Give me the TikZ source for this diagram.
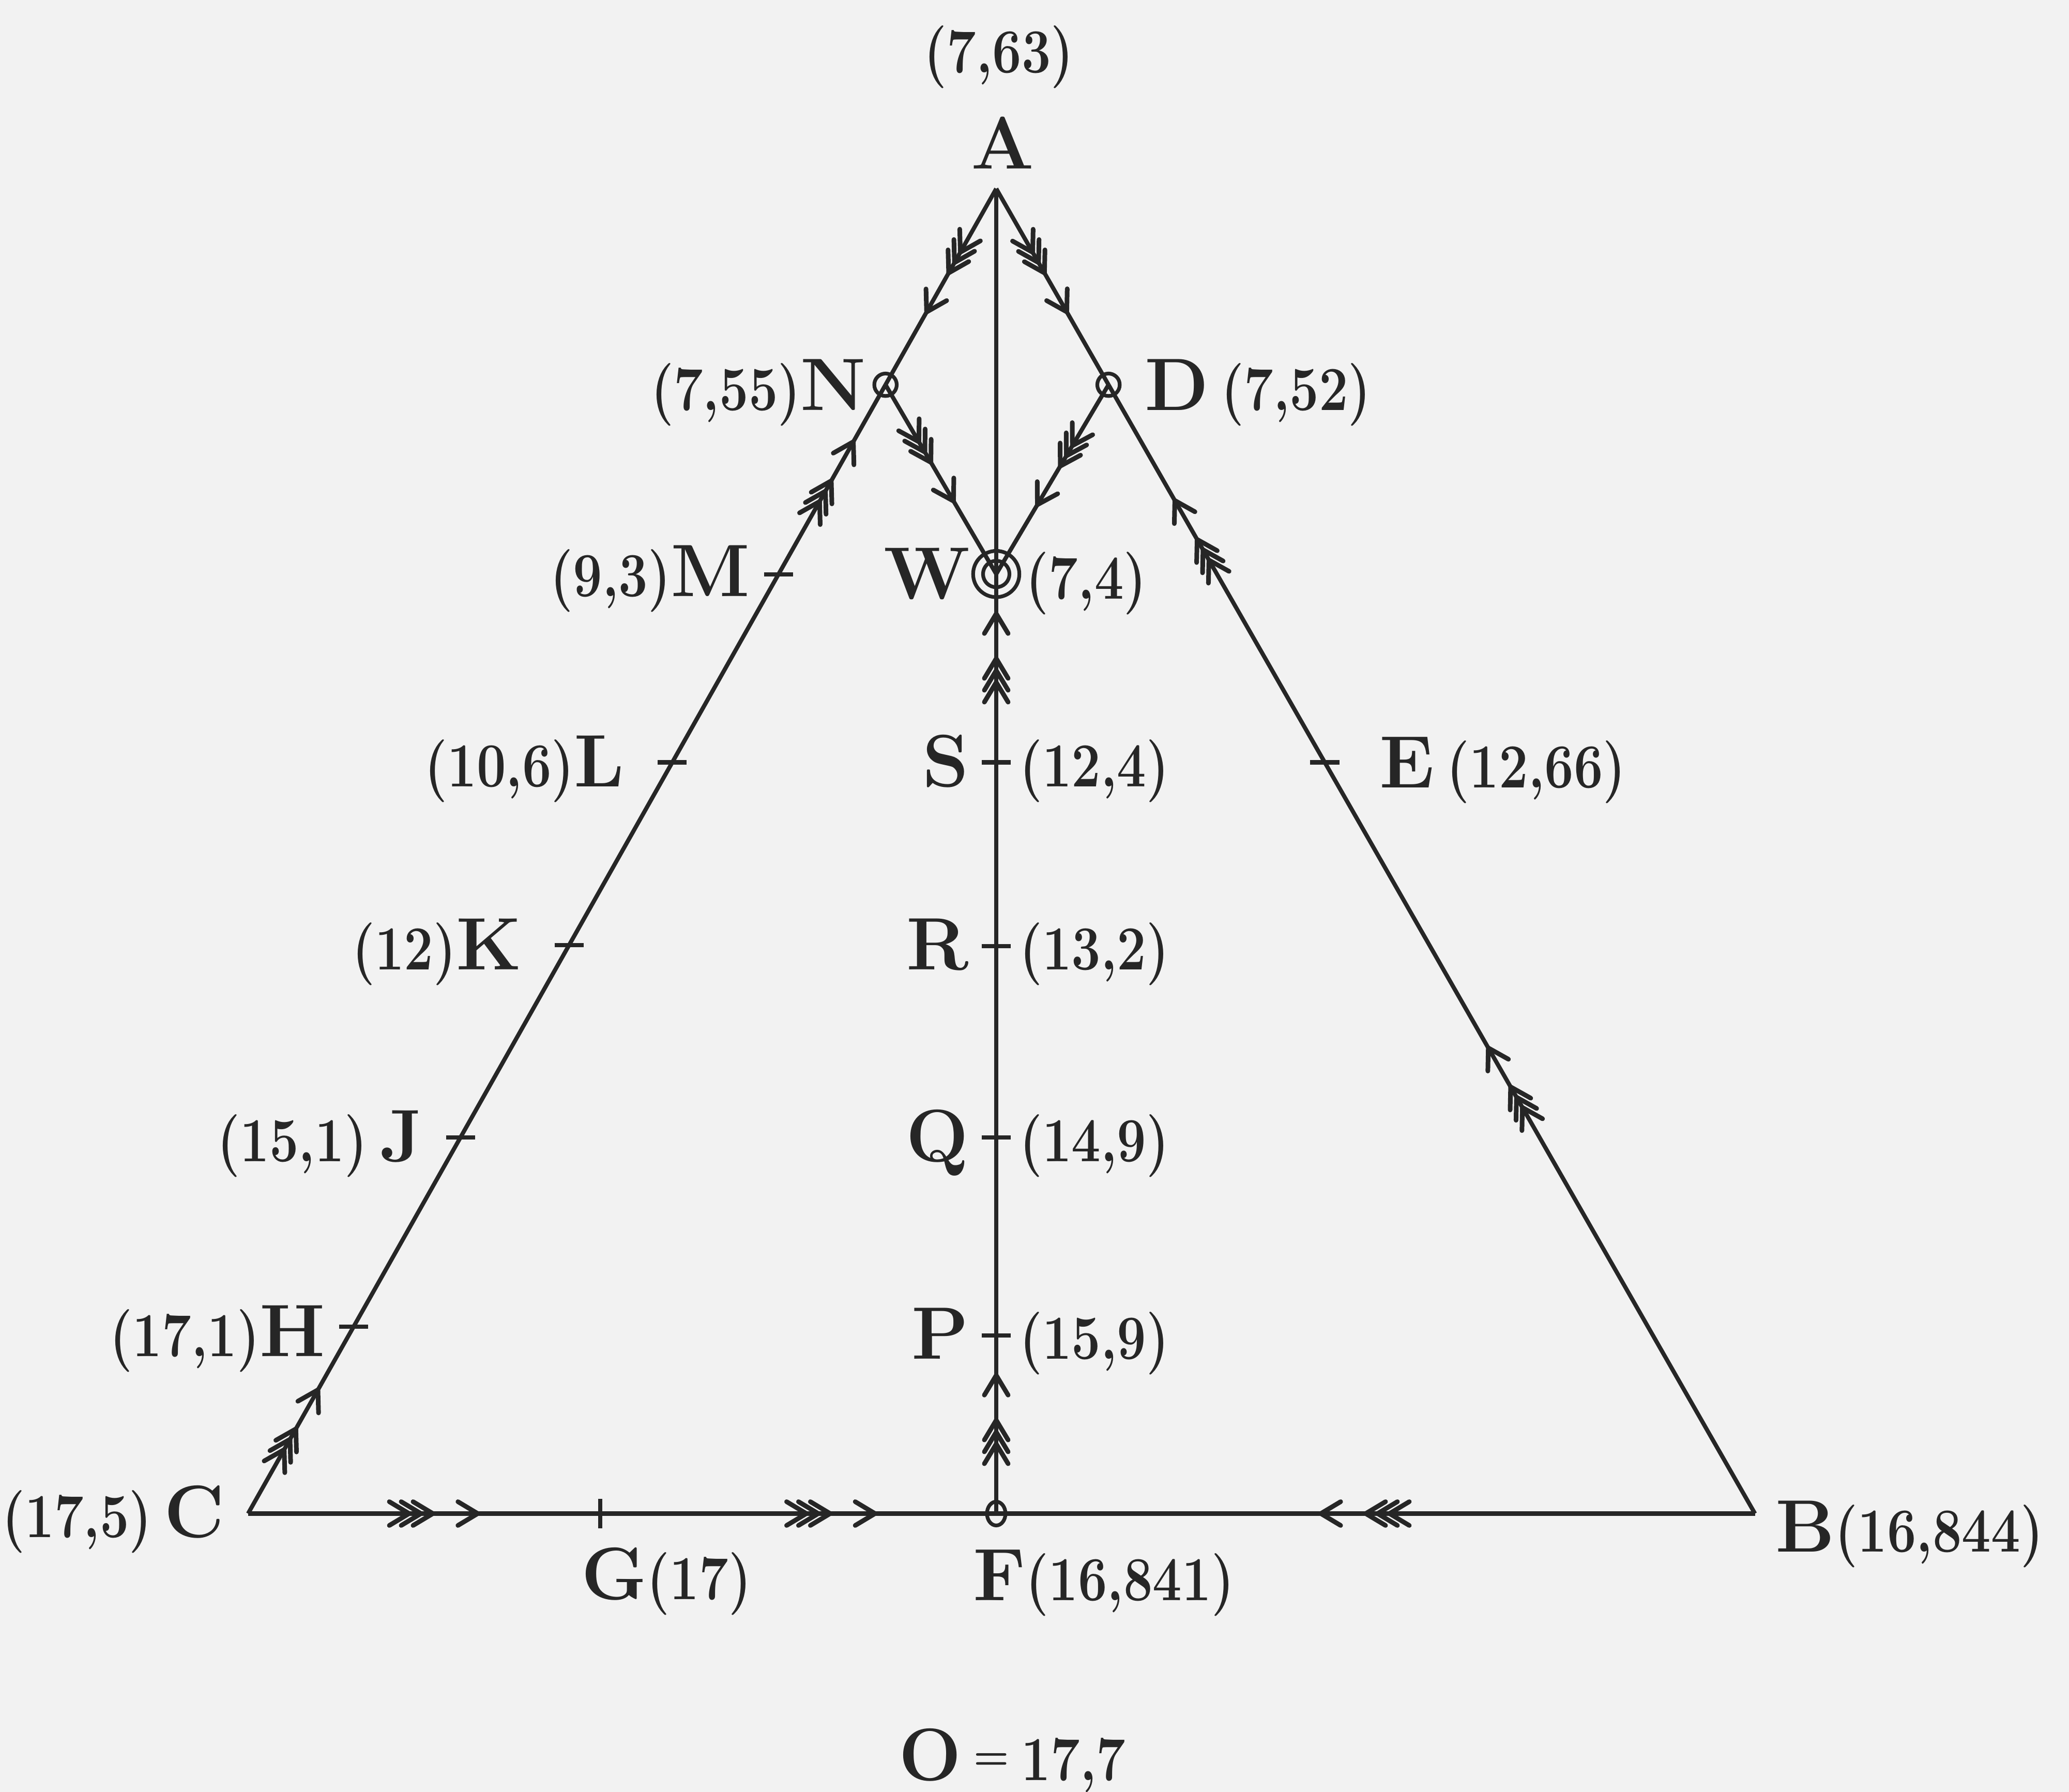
\documentclass[tikz,border=0pt]{standalone}
\usetikzlibrary{calc,decorations.markings,shapes.geometric}
\newcommand{\nm}[1]{\scalebox{0.83}[1]{\fontsize{13.5}{15}\selectfont\bfseries #1}}
\newcommand{\letf}{\fontsize{16}{18}\selectfont\bfseries}
\begin{document}
\begin{tikzpicture}[x=0.01cm, y=-0.01cm,
  ink/.style={draw=black!85, line width=0.9pt},
  chev/.style={draw=black!85, line width=1pt, line cap=round, line join=miter},
  flowgrp/.pic={
    \foreach \d in {0,9,18} {\draw[chev] ({-\d-15},9) -- ({-\d},0) -- ({-\d-15},-9);}
    \draw[chev] (19,9) -- (34,0) -- (19,-9);
  },
  flow/.style={postaction={decorate, decoration={markings, mark=at position #1 with {\pic[transform shape]{flowgrp};}}}},
  htick/.pic={\draw[ink] (-11,0) -- (11,0);},
  vtick/.pic={\draw[ink] (0,-11) -- (0,11);},
  lbl/.style={inner sep=0pt, text=black!85, font=\letf},
  ring/.style={circle, draw=black!85, line width=0.8pt, inner sep=0pt}
]
\fill[black!5] (0,0) rectangle (1568,1358);
\useasboundingbox (0,0) rectangle (1568,1358);

% main points
\coordinate (A) at (755,143);
\coordinate (C) at (188,1147);
\coordinate (B) at (1330,1147);
\coordinate (F) at (755,1147);
\coordinate (W) at (755,435);
\coordinate (N) at ($(A)!0.148!(C)$);
\coordinate (D) at ($(A)!0.148!(B)$);
% tick points
\coordinate (M) at ($(A)!0.291!(C)$);
\coordinate (L) at ($(A)!0.433!(C)$);
\coordinate (K) at ($(A)!0.571!(C)$);
\coordinate (J) at ($(A)!0.716!(C)$);
\coordinate (H) at ($(A)!0.859!(C)$);
\coordinate (E) at ($(A)!0.433!(B)$);
\coordinate (S) at ($(A)!0.433!(F)$);
\coordinate (R) at ($(A)!0.5717!(F)$);
\coordinate (Q) at ($(A)!0.716!(F)$);
\coordinate (P) at ($(A)!0.8655!(F)$);
\coordinate (G) at ($(C)!0.471!(F)$);

% connectors
\draw[ink, flow=0.43] (A) -- (N);
\draw[ink, flow=0.075, flow=0.915] (C) -- (N);
\draw[ink, flow=0.43] (A) -- (D);
\draw[ink, flow=0.378, flow=0.863] (B) -- (D);
\draw[ink, flow=0.41] (N) -- (W);
\draw[ink, flow=0.43] (D) -- (W);
\draw[ink] (W) -- (A);
\draw[ink, flow=0.0994, flow=0.91] (F) -- (W);
\draw[ink, flow=0.247, flow=0.778] (C) -- (F);
\draw[ink, flow=0.513] (B) -- (F);

% ticks
\foreach \p in {M,L,K,J,H,E,S,R,Q,P} {\pic at (\p) {htick};}
\pic at (G) {vtick};

% markers
\node[ring, minimum size=1.7mm] (Nmark) at (N) {};
\node[ring, minimum size=1.7mm] (Dmark) at (D) {};
\node[ring, minimum size=3.5mm] (Wout) at (W) {};
\node[ring, minimum size=2.0mm] (Win) at (W) {};
\node[ellipse, draw=black!85, line width=0.8pt, inner sep=0pt, minimum width=1.4mm, minimum height=1.8mm] (Fmark) at (F) {};

% labels
\node[lbl, anchor=base] (tAv) at (757,55) {\nm{(7,63)}};
\node[lbl, anchor=base] (tA) at (760,128) {A};
\node[lbl, anchor=base east] (tN) at (657,311) {\nm{(7,55)}N};
\node[lbl, anchor=base west] (tD) at (867,311) {D\,\nm{(7,52)}};
\node[lbl, anchor=base east] (tM) at (569,452) {\nm{(9,3)}M};
\node[lbl, anchor=base east] (tW) at (736,454) {W};
\node[lbl, anchor=base west] (tWv) at (777,454) {\nm{(7,4)}};
\node[lbl, anchor=base east] (tL) at (474,596) {\nm{(10,6)}L};
\node[lbl, anchor=base east] (tS) at (735,596) {S};
\node[lbl, anchor=base west] (tSv) at (772,596) {\nm{(12,4)}};
\node[lbl, anchor=base west] (tE) at (1045,597) {E\,\nm{(12,66)}};
\node[lbl, anchor=base east] (tK) at (396,735) {\nm{(12)}K};
\node[lbl, anchor=base east] (tR) at (735,735) {R};
\node[lbl, anchor=base west] (tRv) at (772,735) {\nm{(13,2)}};
\node[lbl, anchor=base east] (tJ) at (321,880) {\nm{(15,1)}\,J};
\node[lbl, anchor=base east] (tQ) at (735,880) {Q};
\node[lbl, anchor=base west] (tQv) at (772,880) {\nm{(14,9)}};
\node[lbl, anchor=base east] (tH) at (247,1028) {\nm{(17,1)}H};
\node[lbl, anchor=base east] (tP) at (735,1030) {P};
\node[lbl, anchor=base west] (tPv) at (772,1030) {\nm{(15,9)}};
\node[lbl, anchor=base east] (tC) at (171,1165) {\nm{(17,5)}\,C};
\node[lbl, anchor=base west] (tB) at (1345,1176) {B\nm{(16,844)}};
\node[lbl, anchor=base west] (tG) at (440,1212) {G\nm{(17)}};
\node[lbl, anchor=base west] (tF) at (737,1213) {F\nm{(16,841)}};
\node[lbl, anchor=base] (tO) at (767,1349) {O\,\raisebox{2.5pt}{\fontsize{8}{9}\selectfont=}\,\nm{17,7}};
\end{tikzpicture}
\end{document}
